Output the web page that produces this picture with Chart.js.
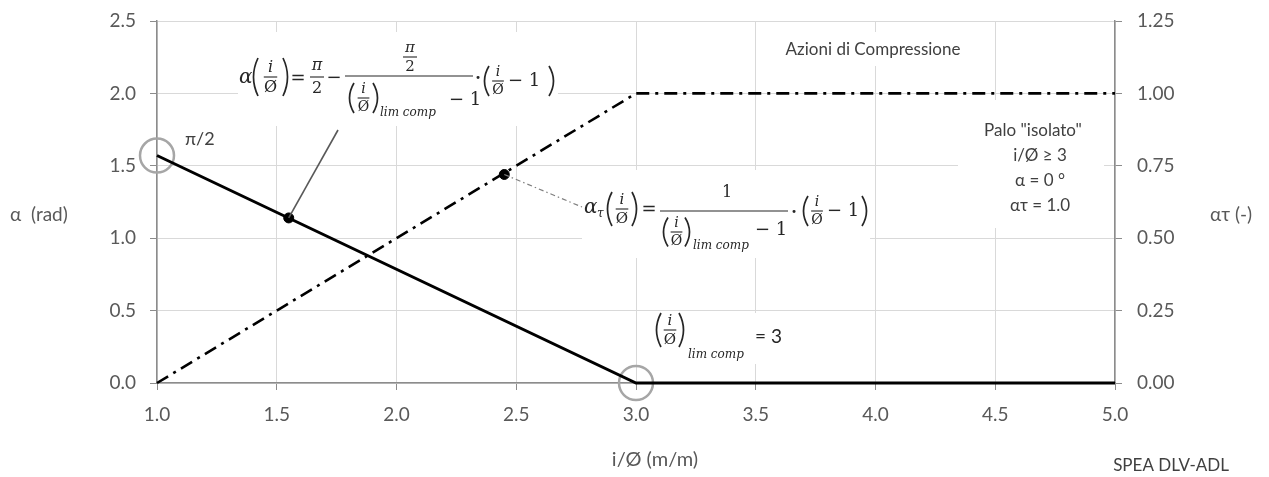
<!DOCTYPE html>
<html><head><meta charset="utf-8">
<script src="https://cdn.jsdelivr.net/npm/chart.js@4.4.1/dist/chart.umd.min.js"></script>
<style>html,body{margin:0;padding:0;background:#fff;}#wrap{width:1269px;height:477px;position:relative;}</style>
</head><body><div id="wrap"><canvas id="c"></canvas></div>
<script>
// ---- data ----
const alphaX = [1, 3, 5];
const alphaY = [1.571, 0, 0];          // α (rad)
const tauX = [1, 3, 5];
const tauY = [0, 1, 1];                // ατ (-)
const alphaDotX = [1.55];
const alphaDotY = [1.14];
const tauDotX = [2.45];
const tauDotY = [0.72];
const ringX = [1, 3];
const ringY = [1.571, 0];
const xRange = [1, 5, 0.5];
const yRange = [0, 2.5, 0.5];
const y1Range = [0, 1.25, 0.25];

const SANS = 'Lato, "Open Sans", "DejaVu Sans", sans-serif';
const SERIF = '"DejaVu Serif", "Liberation Serif", serif';
const INK = '#262626';
const TICK = '#595959';

const pts = (xs, ys) => xs.map((x, i) => ({x, y: ys[i]}));

function T(ctx, s, x, y, font, align, color) {
  ctx.font = font; ctx.textAlign = align || 'left'; ctx.textBaseline = 'middle';
  ctx.fillStyle = color || INK; ctx.fillText(s, x, y);
}
function hbar(ctx, x1, x2, y) {
  ctx.beginPath(); ctx.moveTo(x1, y); ctx.lineTo(x2, y);
  ctx.lineWidth = 1.1; ctx.strokeStyle = INK; ctx.setLineDash([]); ctx.stroke();
}
function paren(ctx, x, yc, h, open) {
  ctx.beginPath(); ctx.lineWidth = 1.7; ctx.strokeStyle = INK; ctx.setLineDash([]);
  if (open) { ctx.moveTo(x + 6, yc - h / 2); ctx.quadraticCurveTo(x - 3, yc, x + 6, yc + h / 2); }
  else { ctx.moveTo(x, yc - h / 2); ctx.quadraticCurveTo(x + 9, yc, x, yc + h / 2); }
  ctx.stroke();
}
function ioFrac(ctx, cx, yc, fs) {
  T(ctx, 'i', cx, yc - fs * 0.6, 'italic ' + fs + 'px ' + SERIF, 'center');
  hbar(ctx, cx - fs * 0.42, cx + fs * 0.42, yc);
  T(ctx, 'Ø', cx, yc + fs * 0.68, fs + 'px ' + SERIF, 'center');
}
function io(ctx, x, yc, w, h, fs) {
  paren(ctx, x, yc, h, true);
  ioFrac(ctx, x + w / 2, yc, fs);
  paren(ctx, x + w - 6, yc, h, false);
}
function ioMinus1(ctx, x, yc, w, h, fs) {
  paren(ctx, x, yc, h, true);
  ioFrac(ctx, x + 15, yc, fs);
  T(ctx, '− 1', x + 25, yc, (fs + 4) + 'px ' + SERIF, 'left');
  paren(ctx, x + w - 6, yc, h, false);
}
function limComp(ctx, x, y) { T(ctx, 'lim comp', x, y, 'italic 12px ' + SERIF, 'left'); }

const whiteBoxes = [
  [238, 32, 558, 126],
  [582, 170, 870, 258],
  [653, 313, 792, 364],
  [780, 32, 968, 66],
  [958, 100, 1104, 228]
];

const annot = {
  id: 'annot',
  beforeDatasetsDraw(chart) {
    const ctx = chart.ctx; ctx.save(); ctx.fillStyle = '#fff';
    whiteBoxes.forEach(b => ctx.fillRect(b[0], b[1], b[2] - b[0], b[3] - b[1]));
    ctx.restore();
  },
  afterDraw(chart) {
    const ctx = chart.ctx; ctx.save();
    const sx = chart.scales.x, sy = chart.scales.y, sy1 = chart.scales.y1;
    // axis titles
    T(ctx, 'α  (rad)', 10, 215, '19px ' + SANS, 'left', TICK);
    T(ctx, 'ατ (-)', 1210, 215, '19px ' + SANS, 'left', TICK);
    T(ctx, 'i/Ø (m/m)', 655, 460, '20px ' + SANS, 'center', TICK);
    T(ctx, 'SPEA DLV-ADL', 1171, 466, '17px ' + SANS, 'center', '#404040');
    // labels
    T(ctx, 'π/2', 185, 139, '18px ' + SANS, 'left', '#404040');
    T(ctx, 'Azioni di Compressione', 873, 50, '17px ' + SANS, 'center', '#404040');
    T(ctx, 'Palo "isolato"', 1033, 131, '17px ' + SANS, 'center', '#404040');
    T(ctx, 'i/Ø ≥ 3', 1040, 156, '17px ' + SANS, 'center', '#404040');
    T(ctx, 'α = 0 °', 1040, 181, '17px ' + SANS, 'center', '#404040');
    T(ctx, 'ατ = 1.0', 1040, 206, '17px ' + SANS, 'center', '#404040');

    // callout lines
    const d1x = sx.getPixelForValue(alphaDotX[0]), d1y = sy.getPixelForValue(alphaDotY[0]);
    ctx.beginPath(); ctx.moveTo(d1x, d1y); ctx.lineTo(338, 130);
    ctx.strokeStyle = '#595959'; ctx.lineWidth = 1.6; ctx.setLineDash([]); ctx.stroke();
    const d2x = sx.getPixelForValue(tauDotX[0]), d2y = sy1.getPixelForValue(tauDotY[0]);
    ctx.beginPath(); ctx.moveTo(d2x, d2y); ctx.lineTo(582, 207);
    ctx.strokeStyle = '#7f7f7f'; ctx.lineWidth = 1.2; ctx.setLineDash([5, 3, 1.5, 3]); ctx.stroke();
    ctx.setLineDash([]);

    // formula 1
    T(ctx, 'α', 239, 78, 'italic 20px ' + SERIF, 'left');
    io(ctx, 252, 77, 37, 38, 16);
    T(ctx, '=', 298, 79, '18px ' + SERIF, 'center');
    T(ctx, 'π', 317, 66, 'italic 16px ' + SERIF, 'center');
    hbar(ctx, 310, 324, 77);
    T(ctx, '2', 317, 89, '16px ' + SERIF, 'center');
    T(ctx, '−', 334, 78, '18px ' + SERIF, 'center');
    hbar(ctx, 345, 473, 76);
    T(ctx, 'π', 410, 48, 'italic 15px ' + SERIF, 'center');
    hbar(ctx, 403, 417, 57);
    T(ctx, '2', 410, 67, '15px ' + SERIF, 'center');
    io(ctx, 348, 98, 31, 30, 14);
    limComp(ctx, 380, 113);
    T(ctx, '− 1', 449, 100, '18px ' + SERIF, 'left');
    T(ctx, '·', 478, 79, 'bold 16px ' + SERIF, 'center');
    ioMinus1(ctx, 483, 81, 72, 30, 14);

    // formula 2
    T(ctx, 'α', 584, 208, 'italic 20px ' + SERIF, 'left');
    T(ctx, 'τ', 597, 214, 'italic 12px ' + SERIF, 'left');
    io(ctx, 606, 209, 32, 34, 15);
    T(ctx, '=', 649, 210, '18px ' + SERIF, 'center');
    hbar(ctx, 660, 788, 211);
    T(ctx, '1', 727, 193, '16px ' + SERIF, 'center');
    io(ctx, 662, 232, 29, 29, 14);
    limComp(ctx, 693, 246);
    T(ctx, '− 1', 755, 230, '18px ' + SERIF, 'left');
    T(ctx, '·', 794, 213, 'bold 16px ' + SERIF, 'center');
    ioMinus1(ctx, 802, 211, 66, 30, 14);

    // formula 3
    io(ctx, 655, 330, 30, 34, 15);
    limComp(ctx, 688, 355);
    T(ctx, '= 3', 755, 337, '19px ' + SANS, 'left');
    ctx.restore();
  }
};

const gridCol = '#d9d9d9', axisCol = '#8c8c8c';
const fixV = (w) => (s) => { s.width = w; s.paddingTop = 0; s.paddingBottom = 0; };
new Chart(document.getElementById('c'), {
  type: 'line',
  data: {
    datasets: [
      { data: pts(alphaX, alphaY), yAxisID: 'y', borderColor: '#000', borderWidth: 3, pointRadius: 0, tension: 0, clip: 4 },
      { data: pts(tauX, tauY), yAxisID: 'y1', borderColor: '#000', borderWidth: 2.6, borderDash: [13, 6, 3, 6], pointRadius: 0, tension: 0, clip: 4 },
      { data: pts(ringX, ringY), yAxisID: 'y', showLine: false, pointRadius: 17, pointBorderWidth: 2.5, pointBorderColor: '#a6a6a6', pointBackgroundColor: 'rgba(0,0,0,0)', clip: false },
      { data: pts(alphaDotX, alphaDotY), yAxisID: 'y', showLine: false, pointRadius: 5, pointBackgroundColor: '#000', pointBorderColor: '#000', clip: false },
      { data: pts(tauDotX, tauDotY), yAxisID: 'y1', showLine: false, pointRadius: 5, pointBackgroundColor: '#000', pointBorderColor: '#000', clip: false }
    ]
  },
  options: {
    responsive: true, maintainAspectRatio: false, animation: false,
    layout: { padding: { top: 21, left: 0, right: 0, bottom: 0 } },
    plugins: { legend: { display: false }, tooltip: { enabled: false } },
    scales: {
      x: {
        type: 'linear', min: xRange[0], max: xRange[1],
        ticks: { stepSize: xRange[2], color: TICK, font: { family: SANS, size: 19 }, padding: 13, callback: v => v.toFixed(1), maxRotation: 0 },
        grid: { color: gridCol, tickColor: axisCol, tickLength: 7 },
        border: { color: axisCol, width: 1.5 },
        afterFit: s => { s.height = 94; s.paddingLeft = 0; s.paddingRight = 0; }
      },
      y: {
        position: 'left', min: yRange[0], max: yRange[1],
        ticks: { stepSize: yRange[2], color: TICK, font: { family: SANS, size: 19 }, padding: 14, callback: v => v.toFixed(1) },
        grid: { color: gridCol, tickColor: axisCol, tickLength: 7 },
        border: { color: axisCol, width: 1.5 },
        afterFit: fixV(157)
      },
      y1: {
        position: 'right', min: y1Range[0], max: y1Range[1],
        ticks: { stepSize: y1Range[2], color: TICK, font: { family: SANS, size: 19 }, padding: 15, callback: v => v.toFixed(2) },
        grid: { drawOnChartArea: false, tickColor: axisCol, tickLength: 7 },
        border: { color: axisCol, width: 1.5 },
        afterFit: fixV(154)
      }
    }
  },
  plugins: [annot]
});
</script></body></html>
